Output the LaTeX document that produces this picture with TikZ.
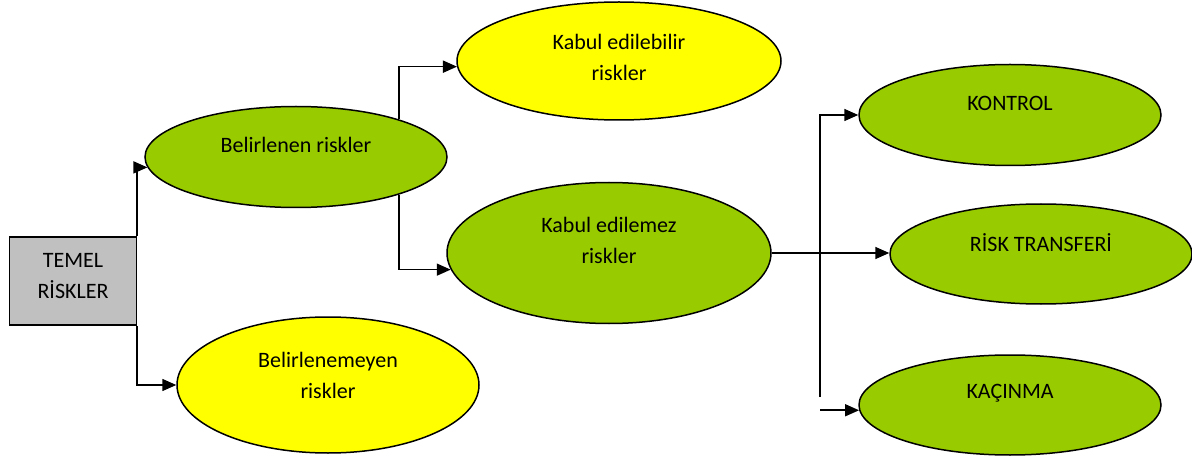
\documentclass[tikz,border=0pt]{standalone}
\usepackage{fontspec}
\setmainfont{Carlito}
\usetikzlibrary{shapes.geometric,arrows.meta}
\definecolor{yesil}{HTML}{99CC00}
\definecolor{sari}{HTML}{FFFF00}
\definecolor{gri}{HTML}{C0C0C0}

\begin{document}
\begin{tikzpicture}[x=1pt, y=-1pt,
        elips/.style={draw, ellipse, line width=1.5pt, inner sep=0pt},
        yazi/.style={align=center, font=\fontsize{22}{31}\selectfont},
        ok/.style={-{Triangle[length=14pt,width=12pt]}, line width=1.6pt}]
        \useasboundingbox (0,0) rectangle (1192,465);

        \node[draw, rectangle, fill=gri, line width=1.5pt, minimum width=127pt, minimum height=88pt, text depth=10pt, yazi] (temel) at (73,281) {TEMEL\\RİSKLER};

        \node[elips, fill=yesil, minimum width=302pt, minimum height=101pt] (belirlenen) at (296,157) {};
        \node[elips, fill=sari, minimum width=324pt, minimum height=118pt] (edilebilir) at (619,61) {};
        \node[elips, fill=yesil, minimum width=324pt, minimum height=141pt] (edilemez) at (609,253) {};
        \node[elips, fill=sari, minimum width=302pt, minimum height=136pt] (belirlenemeyen) at (328,385) {};
        \node[elips, fill=yesil, minimum width=302pt, minimum height=101pt] (kontrol) at (1010,115) {};
        \node[elips, fill=yesil, minimum width=302pt, minimum height=100pt] (transfer) at (1041,254) {};
        \node[elips, fill=yesil, minimum width=302pt, minimum height=100pt] (kacinma) at (1010,405) {};

        \node[yazi] (t1) at ([yshift=12pt]belirlenen.center) {Belirlenen riskler};
        \node[yazi] (t2) at ([yshift=4pt]edilebilir.center) {Kabul edilebilir\\riskler};
        \node[yazi] (t3) at ([yshift=13pt]edilemez.center) {Kabul edilemez\\riskler};
        \node[yazi] (t4) at ([yshift=10pt]belirlenemeyen.center) {Belirlenemeyen\\riskler};
        \node[yazi] (t5) at ([yshift=12pt]kontrol.center) {KONTROL};
        \node[yazi] (t6) at ([yshift=11pt]transfer.center) {RİSK TRANSFERİ};
        \node[yazi] (t7) at ([yshift=12pt]kacinma.center) {KAÇINMA};

        \draw[ok] (temel.north east) |- (belirlenen.184);
        \draw[ok] (temel.south east) |- (belirlenemeyen.west);
        \draw[ok] (belirlenen.20) |- (edilebilir.182);
        \draw[ok] (belirlenen.340) |- (edilemez.186);

        \coordinate (dal) at (820,397);
        \draw[ok] (edilemez.east) -- (edilemez.east -| transfer.west);
        \draw[ok] (dal) |- (kontrol.west);
        \draw[ok] (kacinma.182 -| dal) -- (kacinma.182);
    \end{tikzpicture}
\end{document}
